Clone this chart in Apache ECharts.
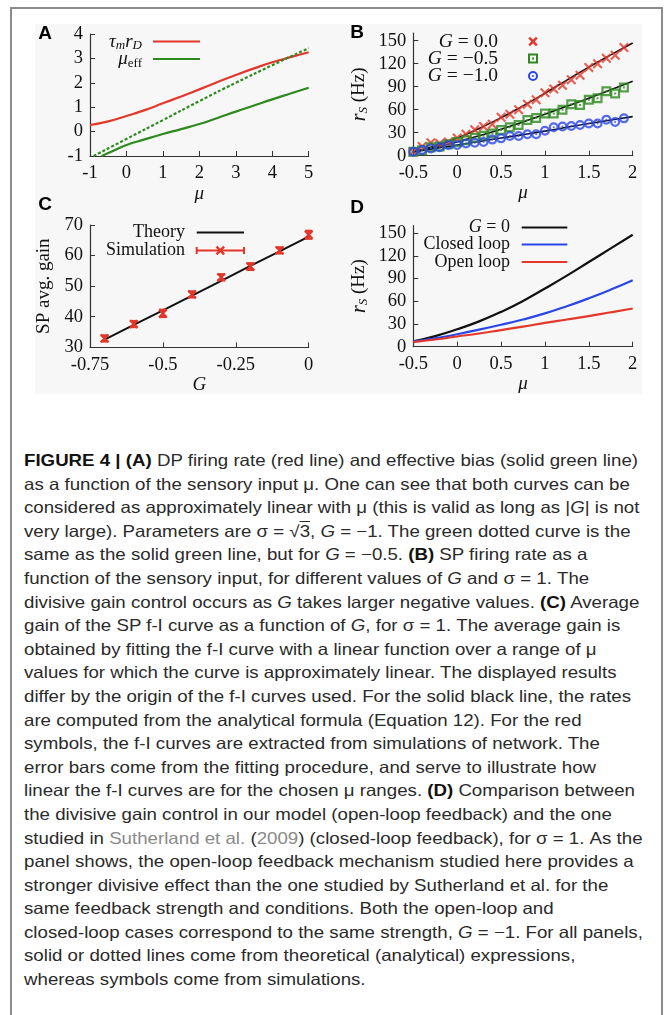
<!DOCTYPE html>
<html><head><meta charset="utf-8">
<script src="https://cdn.jsdelivr.net/npm/echarts@6/dist/echarts.min.js"></script>
<style>
html,body{margin:0;padding:0;background:#fff;width:670px;height:1015px;overflow:hidden;}
#frame{position:absolute;left:10px;top:7px;width:649px;height:1030px;border:2px solid #8c8c8c;border-bottom:none;}
#bg{position:absolute;left:35px;top:24px;width:607px;height:370px;background:#f7f7f7;}
#chart{position:absolute;left:0;top:0;width:670px;height:400px;}
#cap{position:absolute;left:24px;top:449px;font-family:"Liberation Sans",Arial,sans-serif;font-size:16.5px;line-height:23.6px;color:#2a2a2a;transform-origin:0 0;white-space:nowrap;}
#cap .ln{display:block;}
#cap b{font-weight:bold;color:#111;}
#cap .g{color:#8a8a8a;}
#cap .ov{text-decoration:overline;}
</style></head>
<body>
<div id="frame"></div>
<div id="bg"></div>
<div id="chart"></div>
<div id="cap">
<div class="ln"><span id="l1"><b>FIGURE 4 | (A)</b> DP firing rate (red line) and effective bias (solid green line)</span></div>
<div class="ln">as a function of the sensory input μ. One can see that both curves can be</div>
<div class="ln">considered as approximately linear with μ (this is valid as long as |<i>G</i>| is not</div>
<div class="ln">very large). Parameters are σ = √<span class="ov">3</span>, <i>G</i> = −1. The green dotted curve is the</div>
<div class="ln">same as the solid green line, but for <i>G</i> = −0.5. <b>(B)</b> SP firing rate as a</div>
<div class="ln">function of the sensory input, for different values of <i>G</i> and σ = 1. The</div>
<div class="ln">divisive gain control occurs as <i>G</i> takes larger negative values. <b>(C)</b> Average</div>
<div class="ln">gain of the SP f-I curve as a function of <i>G</i>, for σ = 1. The average gain is</div>
<div class="ln">obtained by fitting the f-I curve with a linear function over a range of μ</div>
<div class="ln">values for which the curve is approximately linear. The displayed results</div>
<div class="ln">differ by the origin of the f-I curves used. For the solid black line, the rates</div>
<div class="ln">are computed from the analytical formula (Equation 12). For the red</div>
<div class="ln">symbols, the f-I curves are extracted from simulations of network. The</div>
<div class="ln">error bars come from the fitting procedure, and serve to illustrate how</div>
<div class="ln">linear the f-I curves are for the chosen μ ranges. <b>(D)</b> Comparison between</div>
<div class="ln">the divisive gain control in our model (open-loop feedback) and the one</div>
<div class="ln">studied in <span class="g">Sutherland et al.</span> (<span class="g">2009</span>) (closed-loop feedback), for σ = 1. As the</div>
<div class="ln">panel shows, the open-loop feedback mechanism studied here provides a</div>
<div class="ln">stronger divisive effect than the one studied by Sutherland et al. for the</div>
<div class="ln">same feedback strength and conditions. Both the open-loop and</div>
<div class="ln">closed-loop cases correspond to the same strength, <i>G</i> = −1. For all panels,</div>
<div class="ln">solid or dotted lines come from theoretical (analytical) expressions,</div>
<div class="ln">whereas symbols come from simulations.</div>
</div>
<script>
// ---------- Panel A ----------
const muA_rD   = [-1, -0.5, 0, 0.5, 1, 1.5, 2, 2.5, 3, 3.5, 4, 4.5, 5];
const tauRD    = [0.27, 0.42, 0.64, 0.88, 1.16, 1.44, 1.73, 2.03, 2.32, 2.59, 2.84, 3.05, 3.25];
const muA_eff  = [-0.68, -0.5, 0, 0.5, 1, 1.5, 2, 2.5, 3, 3.5, 4, 4.5, 5];
const muEffG1  = [-1, -0.88, -0.55, -0.32, -0.1, 0.1, 0.31, 0.56, 0.82, 1.07, 1.32, 1.56, 1.8];
const muA_half = [-0.9, 0, 1, 2, 3, 4, 5];
const muEffG05 = [-1, -0.3, 0.47, 1.25, 2.0, 2.72, 3.42];
const ticksA_x = [-1, 5, 1];
const ticksA_y = [-1, 4, 1];

// ---------- Panel B ----------
const muB    = [-0.5, -0.25, 0, 0.25, 0.5, 0.75, 1, 1.25, 1.5, 1.75, 2];
const thG0   = [5, 13, 23, 35.5, 49.5, 65, 81.5, 98.5, 115.5, 131.5, 147];
const thG05  = [5, 11, 18, 26, 34.5, 44, 54, 64.5, 75, 86, 97];
const thG1   = [5, 9.5, 14, 18.5, 23, 27.5, 32, 37, 42, 46.5, 51];
const muSim  = [-0.5,-0.4,-0.3,-0.2,-0.1,0,0.1,0.2,0.3,0.4,0.5,0.6,0.7,0.8,0.9,1.0,1.1,1.2,1.3,1.4,1.5,1.6,1.7,1.8,1.9];
const simG0  = [5,12,17,16,18,23,28,34,38,41,50,54,60,67,73,82,87,92,99,105,115,120,127,131,141];
const simG05 = [5,7,11,12,15,18,20,23.5,26,29,33.5,37,40,46.5,49,55,55,60,67,66,73,75,84,81,89];
const simG1  = [5,7.4,9.5,11,14,14,16,17,18,21,22.6,25.6,25.7,28,28,32.6,37,38,38.7,40,42,42,47,44,48.7];
const ticksB_x = [-0.5, 2, 0.5];
const ticksB_y = [0, 160, 30];

// ---------- Panel C ----------
const gTheory   = [-0.7, -0.6, -0.5, -0.4, -0.3, -0.2, -0.1, 0];
const gainTheory= [32.5, 37.3, 42.1, 46.9, 51.7, 56.6, 61.4, 66.2];
const gSim      = [-0.7, -0.6, -0.5, -0.4, -0.3, -0.2, -0.1, 0];
const gainSim   = [32.9, 37.6, 41.1, 47.3, 52.9, 56.4, 61.7, 66.8];
const gainErr   = [1.0, 1.0, 1.2, 1.0, 1.0, 1.1, 1.0, 1.3];
const ticksC_x  = [-0.75, 0, 0.25];
const ticksC_y  = [30, 70, 10];

// ---------- Panel D ----------
const muD       = [-0.5, -0.25, 0, 0.25, 0.5, 0.75, 1, 1.25, 1.5, 1.75, 2];
const rG0       = [7, 14, 23, 33.5, 46, 60.5, 77, 94, 112, 130, 148];
const rClosed   = [7, 11, 16.5, 22.5, 29, 36, 44, 53.5, 64, 75.5, 88];
const rOpen     = [6, 9.5, 13.5, 17.5, 22, 26.5, 31.5, 36, 40.5, 45.5, 50.5];
const ticksD_x  = [-0.5, 2, 0.5];
const ticksD_y  = [0, 160, 30];

const RED = '#e3372b', GREEN = '#2e8a1f', BLUE = '#2a46e8', BLACK = '#111';
const SERIF = '"Liberation Serif","Times New Roman",serif';
const zip = (xs, ys) => xs.map((x, i) => [x, ys[i]]);

const CROSS = 'path://M0,3 L3,0 L10,7 L17,0 L20,3 L13,10 L20,17 L17,20 L10,13 L3,20 L0,17 L7,10 Z';
const SQDOT = 'path://M0,0 L20,0 L20,20 L0,20 Z M4.5,4.5 L4.5,15.5 L15.5,15.5 L15.5,4.5 Z M8,8 L12,8 L12,12 L8,12 Z';
const CIRDOT = 'path://M10,0 A10,10 0 1,1 10,20 A10,10 0 1,1 10,0 Z M10,4.5 A5.5,5.5 0 1,0 10,15.5 A5.5,5.5 0 1,0 10,4.5 Z M10,8 A2,2 0 1,1 10,12 A2,2 0 1,1 10,8 Z';

function xAx(grid, t, name, gap) {
  return {type:'value', gridIndex:grid, min:t[0], max:t[1], interval:t[2],
    name:name, nameLocation:'middle', nameGap:gap,
    nameTextStyle:{fontFamily:SERIF, fontStyle:'italic', fontSize:19, color:BLACK},
    axisLine:{onZero:false, lineStyle:{color:'#333', width:1.2}},
    axisTick:{inside:true, length:5, lineStyle:{color:'#333'}},
    axisLabel:{fontFamily:SERIF, fontSize:18.5, color:BLACK, margin:8},
    splitLine:{show:false}};
}
function yAx(grid, t, name, gap, rich, hideMax) {
  return {type:'value', gridIndex:grid, min:t[0], max:t[1], interval:t[2],
    name:name, nameLocation:'middle', nameGap:gap, nameRotate:90,
    nameTextStyle:{fontFamily:SERIF, fontSize:19, color:BLACK, rich:rich},
    axisLine:{show:true, onZero:false, lineStyle:{color:'#333', width:1.2}},
    axisTick:{show:true, inside:true, length:5, lineStyle:{color:'#333'}},
    axisLabel:{fontFamily:SERIF, fontSize:18.5, color:BLACK, margin:7, showMaxLabel:!hideMax},
    splitLine:{show:false}};
}
const rsRich = {
  r:{fontFamily:SERIF, fontStyle:'italic', fontSize:20, color:BLACK},
  s:{fontFamily:SERIF, fontStyle:'italic', fontSize:13, color:BLACK, padding:[9,0,0,0]},
  h:{fontFamily:SERIF, fontSize:19, color:BLACK}
};

function txt(x, y, text, rich) {
  return {type:'text', x:x, y:y, silent:true,
    style:{text:text, rich:rich, align:'right', verticalAlign:'middle',
      textAlign:'right', textVerticalAlign:'middle',
      font:'18px ' + SERIF, fill:BLACK}};
}
function seg(x1, y1, x2, y2, color, w) {
  return {type:'line', silent:true, shape:{x1:x1, y1:y1, x2:x2, y2:y2}, style:{stroke:color, lineWidth:w||2}};
}
function hline(x1, x2, y, color, w) { return seg(x1, y, x2, y, color, w); }
function panelLabel(x, y, t) {
  return {type:'text', x:x, y:y, silent:true,
    style:{text:t, font:'bold 19px "Liberation Sans",Arial,sans-serif', fill:'#000',
      align:'center', verticalAlign:'middle', textAlign:'center', textVerticalAlign:'middle'}};
}
function mkRich(fs) {
  return {
    i:{fontFamily:SERIF, fontStyle:'italic', fontSize:fs, fill:BLACK, color:BLACK},
    n:{fontFamily:SERIF, fontSize:fs, fill:BLACK, color:BLACK},
    s:{fontFamily:SERIF, fontStyle:'italic', fontSize:13, fill:BLACK, color:BLACK, padding:[9,0,0,0]},
    u:{fontFamily:SERIF, fontSize:13, fill:BLACK, color:BLACK, padding:[9,0,0,0]}
  };
}
const legRich = mkRich(18);
const legRichB = mkRich(19.5);
function crossMark(cx, cy, color) {
  return [seg(cx-3.8, cy-3.8, cx+3.8, cy+3.8, color, 2.5), seg(cx-3.8, cy+3.8, cx+3.8, cy-3.8, color, 2.5)];
}
function sqMark(cx, cy, color) {
  return [{type:'rect', silent:true, shape:{x:cx-4, y:cy-4, width:8, height:8}, style:{fill:'none', stroke:color, lineWidth:2}},
          {type:'rect', silent:true, shape:{x:cx-1, y:cy-1, width:2, height:2}, style:{fill:color}}];
}
function cirMark(cx, cy, color) {
  return [{type:'circle', silent:true, shape:{cx:cx, cy:cy, r:4}, style:{fill:'none', stroke:color, lineWidth:2}},
          {type:'circle', silent:true, shape:{cx:cx, cy:cy, r:1}, style:{fill:color}}];
}

const chart = echarts.init(document.getElementById('chart'), null, {renderer:'canvas'});
const option = {
  animation:false,
  backgroundColor:'transparent',
  grid:[
    {left:90, top:34, width:218.7, height:122},
    {left:413.3, top:33, width:219.4, height:122.7},
    {left:90, top:225, width:218.7, height:122.3},
    {left:413.3, top:225.7, width:219.4, height:121}
  ],
  xAxis:[
    xAx(0, ticksA_x, 'μ', 28),
    xAx(1, ticksB_x, 'μ', 28),
    xAx(2, ticksC_x, 'G', 28),
    xAx(3, ticksD_x, 'μ', 28)
  ],
  yAxis:[
    yAx(0, ticksA_y, '', 30, undefined, false),
    yAx(1, ticksB_y, '{r|r}{s|S}{h| (Hz)}', 43, rsRich, true),
    yAx(2, ticksC_y, 'SP avg. gain', 36, undefined, false),
    yAx(3, ticksD_y, '{r|r}{s|S}{h| (Hz)}', 43, rsRich, true)
  ],
  series:[
    {type:'line', xAxisIndex:0, yAxisIndex:0, data:zip(muA_rD, tauRD), smooth:true, showSymbol:false, lineStyle:{color:RED, width:2.2}},
    {type:'line', xAxisIndex:0, yAxisIndex:0, data:zip(muA_eff, muEffG1), smooth:true, showSymbol:false, lineStyle:{color:GREEN, width:2.2}},
    {type:'line', xAxisIndex:0, yAxisIndex:0, data:zip(muA_half, muEffG05), smooth:true, showSymbol:false, lineStyle:{color:GREEN, width:2.2, type:[3,2]}},

    {type:'line', xAxisIndex:1, yAxisIndex:1, data:zip(muB, thG0), smooth:true, showSymbol:false, lineStyle:{color:BLACK, width:1.6}, z:2},
    {type:'line', xAxisIndex:1, yAxisIndex:1, data:zip(muB, thG05), smooth:true, showSymbol:false, lineStyle:{color:BLACK, width:1.6}, z:2},
    {type:'line', xAxisIndex:1, yAxisIndex:1, data:zip(muB, thG1), smooth:true, showSymbol:false, lineStyle:{color:BLACK, width:1.6}, z:2},
    {type:'scatter', xAxisIndex:1, yAxisIndex:1, data:zip(muSim, simG0), symbol:CROSS, symbolSize:10, itemStyle:{color:RED}, z:3},
    {type:'scatter', xAxisIndex:1, yAxisIndex:1, data:zip(muSim, simG05), symbol:SQDOT, symbolSize:10, itemStyle:{color:GREEN}, z:3},
    {type:'scatter', xAxisIndex:1, yAxisIndex:1, data:zip(muSim, simG1), symbol:CIRDOT, symbolSize:10, itemStyle:{color:BLUE}, z:3},

    {type:'line', xAxisIndex:2, yAxisIndex:2, data:zip(gTheory, gainTheory), showSymbol:false, lineStyle:{color:BLACK, width:2}, z:2},
    {type:'custom', xAxisIndex:2, yAxisIndex:2, z:3,
      data:gSim.map((g, i) => [g, gainSim[i], gainErr[i]]),
      encode:{x:0, y:1},
      renderItem:function(params, api){
        const x = api.value(0), y = api.value(1), e = api.value(2);
        const p = api.coord([x, y]), t = api.coord([x, y + e]), b = api.coord([x, y - e]);
        const st = {stroke:RED, lineWidth:2.2};
        const c = 3.8, s = 3.8;
        return {type:'group', children:[
          {type:'line', shape:{x1:p[0], y1:t[1], x2:p[0], y2:b[1]}, style:st},
          {type:'line', shape:{x1:p[0]-c, y1:t[1], x2:p[0]+c, y2:t[1]}, style:st},
          {type:'line', shape:{x1:p[0]-c, y1:b[1], x2:p[0]+c, y2:b[1]}, style:st},
          {type:'line', shape:{x1:p[0]-s, y1:p[1]-s, x2:p[0]+s, y2:p[1]+s}, style:st},
          {type:'line', shape:{x1:p[0]-s, y1:p[1]+s, x2:p[0]+s, y2:p[1]-s}, style:st}
        ]};
      }},

    {type:'line', xAxisIndex:3, yAxisIndex:3, data:zip(muD, rG0), smooth:true, showSymbol:false, lineStyle:{color:BLACK, width:2.2}},
    {type:'line', xAxisIndex:3, yAxisIndex:3, data:zip(muD, rClosed), smooth:true, showSymbol:false, lineStyle:{color:BLUE, width:2.2}},
    {type:'line', xAxisIndex:3, yAxisIndex:3, data:zip(muD, rOpen), smooth:true, showSymbol:false, lineStyle:{color:RED, width:2.2}}
  ],
  graphic:[
    panelLabel(45, 34, 'A'), panelLabel(357, 33, 'B'), panelLabel(45, 205, 'C'), panelLabel(357, 208, 'D'),
    // legend A
    txt(142, 41.5, '{i|τ}{s|m}{i|r}{s|D}', mkRich(19)), hline(153, 200, 41.5, RED, 2.2),
    txt(142, 59, '{i|μ}{u|eff}', mkRich(19)), hline(153, 200, 59, GREEN, 2.2),
    // legend B
    txt(498, 41.5, '{i|G}{n| = 0.0}', legRichB), ...crossMark(533, 41.5, RED),
    txt(498, 58.5, '{i|G}{n| = −0.5}', legRichB), ...sqMark(533, 58.5, GREEN),
    txt(498, 76, '{i|G}{n| = −1.0}', legRichB), ...cirMark(533, 76, BLUE),
    // legend C
    txt(185, 232.5, '{n|Theory}', legRich), hline(196.7, 244, 232.5, BLACK),
    txt(185, 250.5, '{n|Simulation}', legRich), hline(196.7, 244, 250.5, RED),
    seg(196.7, 247, 196.7, 254, RED), seg(244, 247, 244, 254, RED),
    ...crossMark(220.3, 250.5, RED),
    // legend D
    txt(510, 227.5, '{i|G}{n| = 0}', legRich), hline(521.7, 567.3, 227.5, BLACK, 2.2),
    txt(510, 244.5, '{n|Closed loop}', legRich), hline(521.7, 567.3, 244.5, BLUE, 2.2),
    txt(510, 262, '{n|Open loop}', legRich), hline(521.7, 567.3, 262, RED, 2.2)
  ]
};
chart.setOption(option);

// fit caption width to the reference's line length
(function(){
  const cap = document.getElementById('cap');
  const w = document.getElementById('l1').getBoundingClientRect().width;
  cap.style.transform = 'scaleX(' + (614 / w) + ')';
})();
</script>
</body></html>
